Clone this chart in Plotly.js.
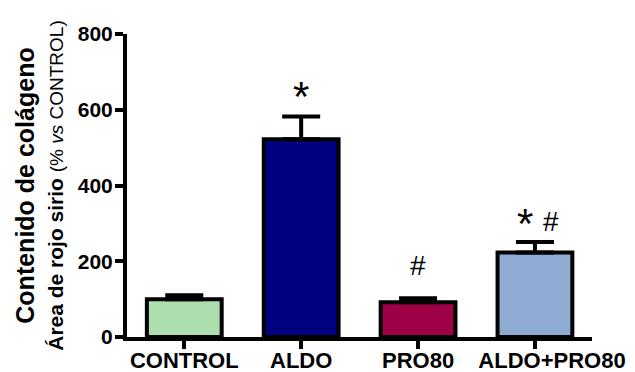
<!DOCTYPE html>
<html>
<head>
<meta charset="utf-8">
<script src="https://cdn.plot.ly/plotly-3.0.1.min.js"></script>
<style>
  html, body { margin: 0; padding: 0; background: #fff; }
  #chart { width: 635px; height: 372px; }
</style>
</head>
<body>
<div id="chart"></div>
<script>
// Groups and measured collagen content (% vs CONTROL)
const groups = ['CONTROL', 'ALDO', 'PRO80', 'ALDO+PRO80'];
const means = [100, 522, 92, 223];
const sem = [10, 60, 10, 28];
const barColors = ['#ADDEAD', '#000080', '#9E0046', '#8DABD3'];
const tickLabels = ['CONTROL', 'ALDO', 'PRO80', 'ALDO+PRO80'];
const yTicks = [0, 200, 400, 600, 800];
// significance marks: * vs CONTROL, # vs ALDO
const starMarks = ['', '*', '', '*'];
const hashMarks = ['', '', '#', '#'];

const FONT = 'Arial, "Liberation Sans", sans-serif';

const bars = {
  type: 'bar',
  x: groups,
  y: means,
  width: 0.64,
  marker: { color: barColors, line: { color: '#000', width: 4 } },
  error_y: {
    type: 'data', symmetric: false,
    array: sem, arrayminus: sem.map(() => 0),
    color: '#000', thickness: 4, width: 19
  },
  hoverinfo: 'x+y'
};

// offsets of the marks above each error-bar cap (px)
const starShift = [0, -5, 0, -7];
const starX = [0, 0, 0, -10];
const hashShift = [0, 0, 15, 3];
const hashX = [0, 0, 0, 16];

const annotations = [];
groups.forEach((g, i) => {
  const top = means[i] + sem[i];
  if (starMarks[i]) {
    annotations.push({
      x: g, y: top, xref: 'x', yref: 'y', text: starMarks[i], showarrow: false,
      yanchor: 'bottom', xanchor: 'center', xshift: starX[i], yshift: starShift[i],
      font: { family: FONT, size: 42, color: '#000' }
    });
  }
  if (hashMarks[i]) {
    annotations.push({
      x: g, y: top, xref: 'x', yref: 'y', text: hashMarks[i], showarrow: false,
      yanchor: 'bottom', xanchor: 'center', xshift: hashX[i], yshift: hashShift[i],
      font: { family: FONT, size: 28, color: '#000' }
    });
  }
});

const axisStyle = {
  showline: true, linewidth: 4, linecolor: '#000',
  ticks: 'outside', ticklen: 8, tickwidth: 4, tickcolor: '#000',
  showgrid: false, zeroline: false, fixedrange: true
};

const layout = {
  width: 635, height: 372,
  margin: { l: 127, r: 43, t: 34, b: 35, pad: 0 },
  paper_bgcolor: '#fff', plot_bgcolor: '#fff',
  showlegend: false,
  font: { family: FONT, color: '#000' },
  bargap: 0,
  xaxis: Object.assign({}, axisStyle, {
    type: 'category',
    range: [-0.49, 3.488],
    tickmode: 'array', tickvals: groups, ticktext: tickLabels,
    tickangle: 0,
    ticklabelstandoff: -7,
    tickfont: { family: FONT, size: 22, weight: 'bold', color: '#000' }
  }),
  yaxis: Object.assign({}, axisStyle, {
    range: [0, 800],
    tickmode: 'array', tickvals: yTicks, ticktext: yTicks.map(String),
    tickfont: { family: FONT, size: 21, weight: 'bold', color: '#000' },
    ticklabelstandoff: -2,
    title: {
      text: '<span style="font-size:25px"><b>Contenido de colágeno</b></span><br>' +
            '<span style="font-size:21px"><b>Área de rojo sirio</b> </span>' +
            '<span style="font-size:19px">(% <i>vs</i> CONTROL)</span>',
      font: { family: FONT, size: 22, color: '#000' },
      standoff: 9
    }
  }),
  annotations: annotations
};

Plotly.newPlot('chart', [bars], layout, { staticPlot: true, displayModeBar: false })
  .then(gd => {
    // the long last category label sits a little right of its tick
    const labels = gd.querySelectorAll('.xtick text');
    const last = labels[labels.length - 1];
    if (last) last.setAttribute('dx', '17');
  });
</script>
</body>
</html>
